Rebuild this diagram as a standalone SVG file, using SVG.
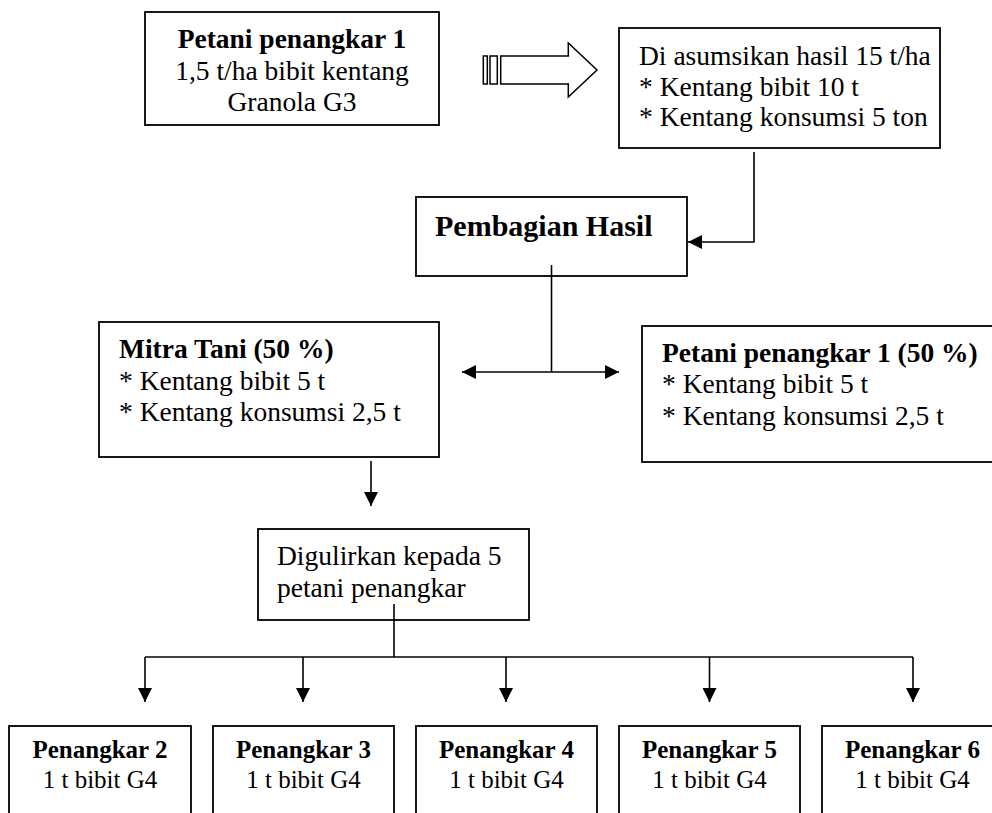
<svg xmlns="http://www.w3.org/2000/svg" width="992" height="813" viewBox="0 0 992 813">
<style>
.box{fill:#fff;stroke:#000;stroke-width:1.8}
.t{font-family:"Liberation Serif","Times New Roman",serif;font-size:27.5px;fill:#000}
.b{font-weight:bold}
.s{font-size:25px}
.c{text-anchor:middle}
.ln{fill:none;stroke:#000;stroke-width:1.6}
.blk{fill:#fff;stroke:#000;stroke-width:1.5}
</style>
<defs>
<marker id="ah" viewBox="0 0 14 14" refX="14" refY="7" markerWidth="14" markerHeight="14" markerUnits="userSpaceOnUse" orient="auto-start-reverse">
<path d="M0,0 L14,7 L0,14 z" fill="#000"/>
</marker>
</defs>
<rect width="992" height="813" fill="#fff"/>

<g id="connectors">
<g id="striped-arrow">
<rect class="blk" x="483.3" y="56" width="4" height="28"/>
<rect class="blk" x="490" y="56" width="7.3" height="28"/>
<polygon class="blk" points="500.7,56 568.3,56 568.3,43 597,70 568.3,97 568.3,84 500.7,84"/>
</g>
<polyline class="ln" points="754,152 754,242 688,242" marker-end="url(#ah)"/>
<line class="ln" x1="551.5" y1="265" x2="551.5" y2="372"/>
<line class="ln" x1="462" y1="372" x2="619" y2="372" marker-start="url(#ah)" marker-end="url(#ah)"/>
<line class="ln" x1="371" y1="461" x2="371" y2="506" marker-end="url(#ah)"/>
<line class="ln" x1="394" y1="604" x2="394" y2="657"/>
<line class="ln" x1="145" y1="657" x2="913" y2="657"/>
<line class="ln" x1="145" y1="657" x2="145" y2="702" marker-end="url(#ah)"/>
<line class="ln" x1="303" y1="657" x2="303" y2="702" marker-end="url(#ah)"/>
<line class="ln" x1="506" y1="657" x2="506" y2="702" marker-end="url(#ah)"/>
<line class="ln" x1="709.5" y1="657" x2="709.5" y2="702" marker-end="url(#ah)"/>
<line class="ln" x1="913" y1="657" x2="913" y2="702" marker-end="url(#ah)"/>
</g>

<g id="n-petani1">
<rect class="box" x="145" y="12" width="294" height="113"/>
<text class="t b c" x="292" y="48">Petani penangkar 1</text>
<text class="t c" x="292" y="79.6">1,5 t/ha bibit kentang</text>
<text class="t c" x="292" y="111.2">Granola G3</text>
</g>

<g id="n-asumsi">
<rect class="box" x="619" y="28" width="321" height="120"/>
<text class="t" x="639" y="65">Di asumsikan hasil 15 t/ha</text>
<text class="t" x="639" y="95.5">* Kentang bibit 10 t</text>
<text class="t" x="639" y="126">* Kentang konsumsi 5 ton</text>
</g>

<g id="n-pembagian">
<rect class="box" x="416" y="197" width="271" height="79"/>
<text class="t b" x="435" y="236" style="font-size:30px">Pembagian Hasil</text>
</g>
<line class="ln" x1="551.5" y1="265" x2="551.5" y2="276"/>

<g id="n-mitra">
<rect class="box" x="99" y="322" width="340" height="135"/>
<text class="t b" x="119" y="358">Mitra Tani (50 %)</text>
<text class="t" x="119" y="389.5">* Kentang bibit 5 t</text>
<text class="t" x="119" y="421">* Kentang konsumsi 2,5 t</text>
</g>

<g id="n-petani1-50">
<rect class="box" x="642" y="326" width="360" height="136"/>
<text class="t b" x="662" y="362">Petani penangkar 1 (50 %)</text>
<text class="t" x="662" y="393">* Kentang bibit 5 t</text>
<text class="t" x="662" y="424.5">* Kentang konsumsi 2,5 t</text>
</g>

<g id="n-digulirkan">
<rect class="box" x="258" y="529" width="271" height="91"/>
<text class="t" x="277" y="565">Digulirkan kepada 5</text>
<text class="t" x="277" y="597">petani penangkar</text>
</g>
<line class="ln" x1="394" y1="604" x2="394" y2="620"/>

<g id="n-p2">
<rect class="box" x="9" y="726" width="182" height="100"/>
<text class="t s b c" x="100" y="758">Penangkar 2</text>
<text class="t s c" x="100" y="787.5">1 t bibit G4</text>
</g>
<g id="n-p3">
<rect class="box" x="213" y="726" width="181" height="100"/>
<text class="t s b c" x="303.5" y="758">Penangkar 3</text>
<text class="t s c" x="303.5" y="787.5">1 t bibit G4</text>
</g>
<g id="n-p4">
<rect class="box" x="416" y="726" width="181" height="100"/>
<text class="t s b c" x="506.5" y="758">Penangkar 4</text>
<text class="t s c" x="506.5" y="787.5">1 t bibit G4</text>
</g>
<g id="n-p5">
<rect class="box" x="619" y="726" width="181" height="100"/>
<text class="t s b c" x="709.5" y="758">Penangkar 5</text>
<text class="t s c" x="709.5" y="787.5">1 t bibit G4</text>
</g>
<g id="n-p6">
<rect class="box" x="822" y="726" width="181" height="100"/>
<text class="t s b c" x="912.5" y="758">Penangkar 6</text>
<text class="t s c" x="912.5" y="787.5">1 t bibit G4</text>
</g>
</svg>
